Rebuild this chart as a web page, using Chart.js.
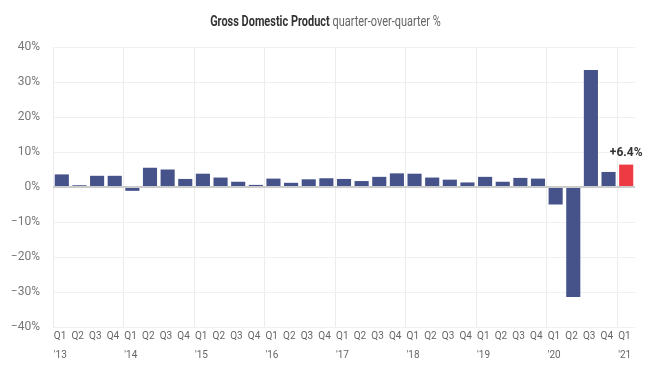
<!DOCTYPE html>
<html>
<head>
<meta charset="utf-8">
<script src="https://cdn.jsdelivr.net/npm/chart.js@4/dist/chart.umd.min.js"></script>
<style>
  html, body { margin: 0; padding: 0; background: #fff; }
  #wrap { position: relative; width: 649px; height: 370px; }
  #title {
    position: absolute; top: 12px; left: 0; width: 649px; text-align: center;
    font-family: Roboto, sans-serif; font-size: 15px; color: #333;
    transform: scaleX(0.73); transform-origin: 328px 0;
  }
  #title b { font-weight: bold; }
  #title span { color: #666; }
</style>
</head>
<body>
<div id="wrap">
  <div id="title"><b>Gross Domestic Product</b> <span>quarter-over-quarter %</span></div>
  <canvas id="gdpChart" width="649" height="370"></canvas>
</div>
<script>
const FONT = 'Roboto, sans-serif';

const quarters = ['Q1','Q2','Q3','Q4','Q1','Q2','Q3','Q4','Q1','Q2','Q3','Q4','Q1','Q2','Q3','Q4',
  'Q1','Q2','Q3','Q4','Q1','Q2','Q3','Q4','Q1','Q2','Q3','Q4','Q1','Q2','Q3','Q4','Q1'];
const years = ["'13","","","","'14","","","","'15","","","","'16","","","",
  "'17","","","","'18","","","","'19","","","","'20","","","","'21"];
const gdpGrowth = [3.6, 0.5, 3.2, 3.2, -1.1, 5.5, 5.0, 2.3, 3.8, 2.7, 1.5, 0.6, 2.4, 1.2, 2.2, 2.5,
  2.3, 1.7, 2.9, 3.9, 3.8, 2.7, 2.1, 1.3, 2.9, 1.5, 2.6, 2.4, -5.0, -31.4, 33.4, 4.3, 6.4];
const yTicks = [-40, -30, -20, -10, 0, 10, 20, 30, 40];

const lastIdx = gdpGrowth.length - 1;
const barColors = gdpGrowth.map((v, i) => i === lastIdx ? '#ee3a43' : '#46538a');
const labels = quarters.map((q, i) => years[i] ? [q, years[i]] : q);

// rótulo do último valor
const lastLabel = {
  id: 'lastLabel',
  afterDatasetsDraw(chart) {
    const bar = chart.getDatasetMeta(0).data[lastIdx];
    const v = gdpGrowth[lastIdx];
    const ctx = chart.ctx;
    ctx.save();
    ctx.font = 'bold 12px ' + FONT;
    ctx.fillStyle = '#333';
    ctx.textAlign = 'center';
    ctx.textBaseline = 'bottom';
    ctx.fillText((v >= 0 ? '+' : '\u2212') + Math.abs(v).toFixed(1) + '%', bar.x, bar.y - 6);
    ctx.restore();
  }
};

const ctx = document.getElementById('gdpChart').getContext('2d');
const gdpChart = new Chart(ctx, {
  type: 'bar',
  data: {
    labels: labels,
    datasets: [{
      data: gdpGrowth,
      backgroundColor: barColors,
      categoryPercentage: 1,
      barPercentage: 0.8
    }]
  },
  options: {
    responsive: false,
    animation: false,
    layout: { padding: { top: 47, right: 14, left: 0, bottom: 0 } },
    plugins: { legend: { display: false }, tooltip: { enabled: false } },
    scales: {
      x: {
        border: { display: false },
        grid: {
          offset: true,
          drawTicks: false,
          color: c => (c.index % 4 === 0 && c.index < gdpGrowth.length) ? '#ececec' : 'rgba(0,0,0,0)'
        },
        ticks: {
          autoSkip: false, maxRotation: 0, align: 'start', labelOffset: -8, padding: 0,
          color: '#666', font: { family: FONT, size: 10, lineHeight: '19px' }
        },
        afterFit: s => { s.height = 43; }
      },
      y: {
        min: -40, max: 40,
        border: { display: false },
        afterBuildTicks: s => { s.ticks = yTicks.map(v => ({ value: v })); },
        grid: {
          drawTicks: false,
          color: c => c.tick.value === 0 ? '#cccccc' : '#f0f0f0',
          lineWidth: c => c.tick.value === 0 ? 2 : 1
        },
        ticks: {
          padding: 13, color: '#777',
          font: { family: FONT, size: 12 },
          callback: v => (v < 0 ? '\u2212' : '') + Math.abs(v) + '%'
        },
        afterFit: s => { s.width = 53; }
      }
    }
  },
  plugins: [lastLabel]
});
</script>
</body>
</html>
